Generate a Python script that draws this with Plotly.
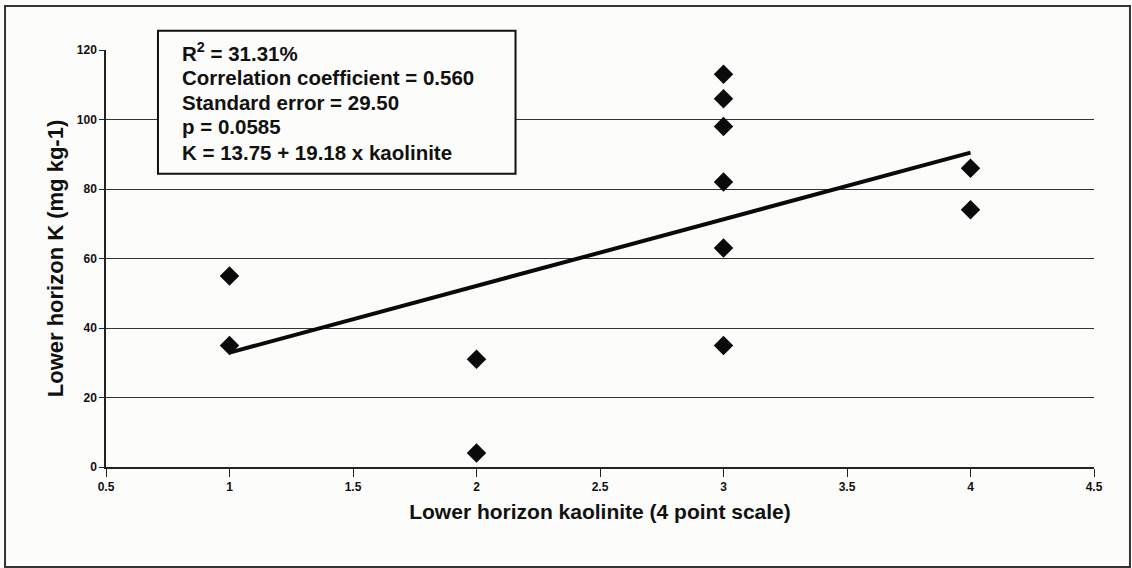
import plotly.graph_objects as go

# Kaolinite score (4 point scale) and lower horizon K (mg kg-1)
kaolinite = [1, 1, 2, 2, 3, 3, 3, 3, 3, 3, 4, 4]
potassium = [55, 35, 31, 4, 113, 106, 98, 82, 63, 35, 86, 74]

# Fitted regression: K = 13.75 + 19.18 x kaolinite
intercept = 13.75
slope = 19.18
fit_x = [1, 4]
fit_y = [intercept + slope * v for v in fit_x]

stats_lines = [
    "R<sup>2</sup> = 31.31%",
    "Correlation coefficient = 0.560",
    "Standard error = 29.50",
    "p = 0.0585",
    "K = 13.75 + 19.18 x kaolinite",
]

x_ticks = [0.5, 1, 1.5, 2, 2.5, 3, 3.5, 4, 4.5]
y_ticks = [0, 20, 40, 60, 80, 100, 120]

tick_font = dict(family="Liberation Sans, Arial", size=12, color="#111")
title_font = dict(family="Liberation Sans, Arial", size=21, color="#111")

fig = go.Figure()

fig.add_trace(go.Scatter(
    x=fit_x, y=fit_y, mode="lines",
    line=dict(color="#0a0a0a", width=4),
    showlegend=False, hoverinfo="skip",
))

fig.add_trace(go.Scatter(
    x=kaolinite, y=potassium, mode="markers",
    marker=dict(symbol="diamond", size=15, color="#0a0a0a", line=dict(width=0)),
    showlegend=False,
))

# plot area in pixels: 106..1094 wide, 50..467 high
plot_top, plot_bottom = 50, 467
plot_h = plot_bottom - plot_top


def paper_y(px):
    return (plot_bottom - px) / plot_h


# statistics text, one annotation per line
line_px = [52, 77, 102, 127, 152]
annotations = [
    dict(xref="paper", yref="paper", x=0.0745, y=paper_y(py),
         xanchor="left", yanchor="middle", align="left", showarrow=False,
         text=f"<b>{s}</b>",
         font=dict(family="Liberation Sans, Arial", size=20.5, color="#111"))
    for s, py in zip(stats_lines, line_px)
]

fig.update_layout(
    width=1132, height=568,
    margin=dict(l=106, r=38, t=50, b=101),
    paper_bgcolor="#fcfcfa",
    plot_bgcolor="#fcfcfa",
    xaxis=dict(
        range=[0.5, 4.5], tickvals=x_ticks,
        ticktext=[f"<b>{v:g}</b>" for v in x_ticks],
        showgrid=False, zeroline=False,
        showline=True, linecolor="#222", linewidth=1.5,
        ticks="outside", ticklen=8, tickcolor="#222",
        tickfont=tick_font,
        title=dict(text="<b>Lower horizon kaolinite (4 point scale)</b>",
                   font=title_font, standoff=11),
    ),
    yaxis=dict(
        range=[0, 120], tickvals=y_ticks,
        ticktext=[f"<b>{v}</b>" for v in y_ticks],
        showgrid=True, gridcolor="#333", gridwidth=1,
        zeroline=False,
        showline=True, linecolor="#222", linewidth=1.5,
        ticks="outside", ticklen=5, tickcolor="#222",
        tickfont=tick_font,
        title=dict(text="<b>Lower horizon K (mg kg-1)</b>",
                   font=dict(family="Liberation Sans, Arial", size=22, color="#111"),
                   standoff=7),
    ),
    shapes=[
        # statistics box
        dict(type="rect", xref="paper", yref="paper",
             x0=0.0526, x1=0.4145, y0=0.703, y1=1.046,
             fillcolor="#fcfcfa", line=dict(color="#111", width=2), layer="above"),
        # figure frame
        dict(type="rect", xref="paper", yref="paper",
             x0=-0.1022, x1=1.0364, y0=-0.2398, y1=1.1055,
             line=dict(color="#333", width=2)),
    ],
    annotations=annotations,
)

fig.write_html("out.html")
